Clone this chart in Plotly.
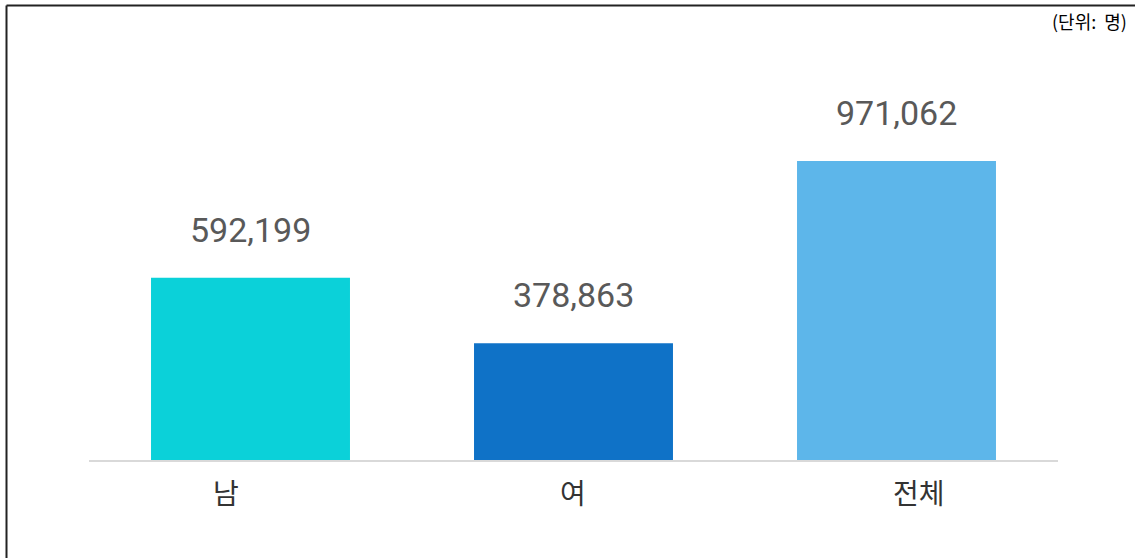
import plotly.graph_objects as go

categories = ["남", "여", "전체"]
values = [592199, 378863, 971062]
colors = ["#0BD1D9", "#0F72C7", "#5DB6EA"]
unit_label = "(단위:  명)"

# horizontal offsets of category captions relative to bar centres (px)
label_xshift = [-25, -1, 22]

W, H = 1135, 558
ML, MR, MT, MB = 89, 77, 40, 98
PW, PH = W - ML - MR, H - MT - MB

fig = go.Figure()
fig.add_trace(go.Bar(
    x=categories, y=values, marker=dict(color=colors, line=dict(width=0)),
    hoverinfo="skip", showlegend=False,
))

for c, v in zip(categories, values):
    fig.add_annotation(
        x=c, y=v, text=f"{v:,}", showarrow=False, yanchor="bottom",
        yshift=26, font=dict(family="Roboto", size=34, color="#595959"),
    )

for c, dx in zip(categories, label_xshift):
    fig.add_annotation(
        x=c, xref="x", y=0, yref="paper", text=c, showarrow=False,
        yanchor="middle", yshift=-32, xshift=dx,
        font=dict(family="Noto Sans CJK KR", size=28, color="#333333"),
    )

fig.add_annotation(
    xref="paper", yref="paper", x=(1129 - ML) / PW, y=(H - 21 - MB) / PH,
    text=unit_label, showarrow=False, xanchor="right", yanchor="middle",
    font=dict(family="Noto Sans CJK KR", size=18, color="#000000"),
)

# frame lines (left and top)
fx = (6.5 - ML) / PW
fy = (H - 5.5 - MB) / PH
fig.add_shape(type="line", xref="paper", yref="paper", x0=fx, x1=fx, y0=(H - 560 - MB) / PH, y1=fy,
              line=dict(color="#222222", width=2))
fig.add_shape(type="line", xref="paper", yref="paper", x0=fx, x1=(1137 - ML) / PW, y0=fy, y1=fy,
              line=dict(color="#222222", width=2))

fig.update_layout(
    width=W, height=H,
    margin=dict(l=ML, r=MR, t=MT, b=MB),
    paper_bgcolor="white", plot_bgcolor="white",
    bargap=0.384,
    xaxis=dict(
        showline=True, linecolor="#D9D9D9", linewidth=2, showgrid=False,
        showticklabels=False, ticks="", fixedrange=True,
    ),
    yaxis=dict(
        range=[0, 1364000], visible=False, showgrid=False, zeroline=False,
        fixedrange=True,
    ),
)

fig.write_html(
    "out.html",
    config={"displayModeBar": False},
    post_script="document.body.style.margin='0px';document.body.style.overflow='hidden';",
)
